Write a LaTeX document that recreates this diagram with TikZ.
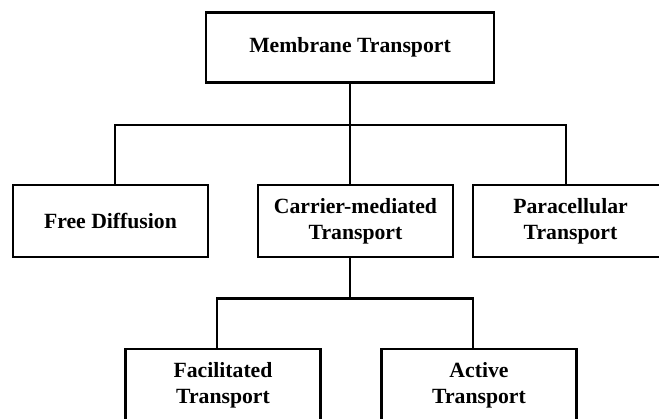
\documentclass[tikz,border=0pt]{standalone}
\usepackage{fontspec}
\setmainfont{Liberation Serif}
\usetikzlibrary{positioning}

\tikzset{
	box/.style={draw, line width=2.8pt, inner sep=0pt, align=center,
		font=\fontsize{21.7}{26}\selectfont\bfseries, minimum width=195pt, minimum height=72pt},
	link/.style={line width=2.8pt}
}

\begin{document}
\begin{tikzpicture}[x=1pt,y=-1pt]
		\useasboundingbox (0,0) rectangle (659,418);
		\clip (0,0) rectangle (659,418);
		\node [box, minimum width=288pt, minimum height=70pt] (mt) at (350,47.5) {Membrane Transport};
		\node [box] (fd) at (110.5,221) {Free Diffusion};
		\node [box] (cm) at (355.5,221) {Carrier-mediated\\Transport};
		\node [box] (pt) at (570.5,221) {Paracellular\\Transport};
		\node [box] (ft) at (223,385) {Facilitated\\Transport};
		\node [box] (at) at (479,385) {Active\\Transport};
		% first level
		\coordinate (bus1) at (350,125);
		\draw [link] (mt.south) -- (bus1);
		\draw [link] ([xshift=4.5pt]fd.north) |- (bus1) -| ([xshift=-4.5pt]pt.north);
		\draw [link] (bus1) -- (bus1 |- cm.north);
		% second level
		\draw [link] (bus1 |- cm.south) -- ++(0,40) coordinate (bus2);
		\draw [link] ([xshift=-6pt]ft.north) |- (bus2) -| ([xshift=-6pt]at.north);
\end{tikzpicture}
\end{document}
